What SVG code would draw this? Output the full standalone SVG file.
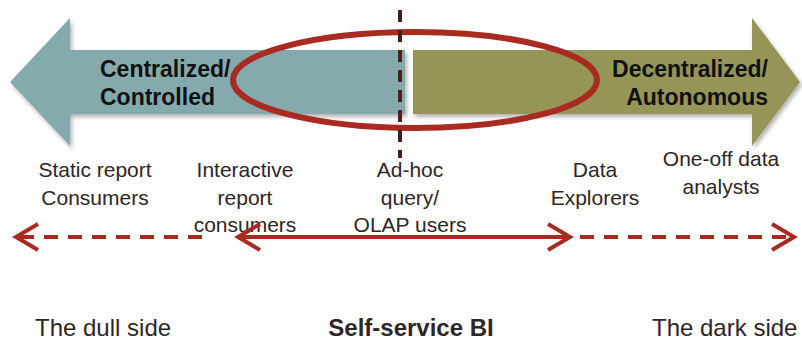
<svg xmlns="http://www.w3.org/2000/svg" width="802" height="344" viewBox="0 0 802 344">
<style>
.band{font-family:"Liberation Sans",Arial,sans-serif;font-weight:bold;font-size:23px;fill:#111}
.lbl{font-family:"Liberation Sans",Arial,sans-serif;font-size:21px;fill:#2e2626;text-anchor:middle}
.side{font-family:"Liberation Sans",Arial,sans-serif;font-size:24px;fill:#2e2626}
.red{stroke:#a82a20;stroke-width:4;fill:none}
.dash{stroke-dasharray:14 10}
</style>
<defs>
<filter id="sh" x="-5%" y="-10%" width="115%" height="130%">
<feDropShadow dx="2" dy="3" stdDeviation="2" flood-color="#000" flood-opacity="0.3"/>
</filter>
</defs>
<rect width="802" height="344" fill="#fff"/>
<g id="arrow-centralized">
<polygon points="10,82 70,18 70,50 405,50 405,114 70,114 70,146" fill="#84aaae" filter="url(#sh)"/>
<text class="band" x="100" y="77">Centralized/</text>
<text class="band" x="100" y="105">Controlled</text>
</g>
<g id="arrow-decentralized">
<polygon points="413,50 752,50 752,18 800,82 752,146 752,114 413,114" fill="#949557" filter="url(#sh)"/>
<text class="band" x="768" y="77" text-anchor="end">Decentralized/</text>
<text class="band" x="768" y="105" text-anchor="end">Autonomous</text>
</g>
<g id="focus-ellipse">
<ellipse cx="415" cy="80" rx="182" ry="48" fill="none" stroke="#a82a20" stroke-width="6"/>
</g>
<g id="divider">
<line x1="400" y1="10" x2="400" y2="158" stroke="#4b1f1a" stroke-width="4" stroke-dasharray="12 8"/>
</g>
<g id="labels">
<g id="static"><text class="lbl" x="95" y="177">Static report</text><text class="lbl" x="95" y="205">Consumers</text></g>
<g id="interactive"><text class="lbl" x="245" y="177">Interactive</text><text class="lbl" x="245" y="205">report</text><text class="lbl" x="245" y="232">consumers</text></g>
<g id="adhoc"><text class="lbl" x="410" y="177">Ad-hoc</text><text class="lbl" x="410" y="205">query/</text><text class="lbl" x="410" y="232">OLAP users</text></g>
<g id="explorers"><text class="lbl" x="595" y="177">Data</text><text class="lbl" x="595" y="205">Explorers</text></g>
<g id="analysts"><text class="lbl" x="721" y="166">One-off data</text><text class="lbl" x="721" y="194">analysts</text></g>
</g>
<g id="connectors">
<line class="red dash" x1="20" y1="237" x2="205" y2="237"/>
<polyline class="red" points="38,224 16,237 38,250"/>
<line class="red" x1="240" y1="237" x2="570" y2="237"/>
<polyline class="red" points="260,224 238,237 260,250"/>
<polyline class="red" points="548,224 570,237 548,250"/>
<line class="red dash" x1="580" y1="237" x2="792" y2="237"/>
<polyline class="red" points="772,224 794,237 772,250"/>
</g>
<g id="bottom">
<text class="side" x="35" y="336">The dull side</text>
<text class="side" x="411" y="336" text-anchor="middle" font-weight="bold">Self-service BI</text>
<text class="side" x="652" y="336">The dark side</text>
</g>
</svg>
